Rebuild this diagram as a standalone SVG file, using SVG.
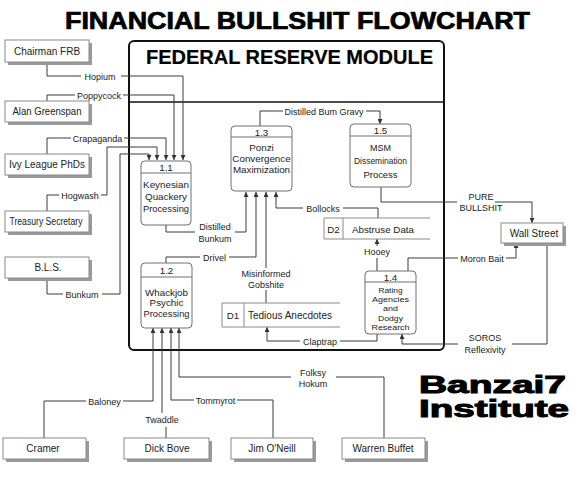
<svg xmlns="http://www.w3.org/2000/svg" width="578" height="480" viewBox="0 0 578 480">
<defs>
<marker id="arr" markerWidth="5" markerHeight="5" refX="5" refY="2.5" orient="auto" markerUnits="userSpaceOnUse">
<path d="M0,0 L5,2.5 L0,5 z" fill="#333"/>
</marker>
<style>
.ent{fill:#fff;stroke:#8a8a8a;stroke-width:1}
.shd{fill:#9a9a9a}
.proc{fill:#fff;stroke:#707070;stroke-width:1}
.div{stroke:#707070;stroke-width:1}
.ds{fill:none;stroke:#8a8a8a;stroke-width:1}
.c{fill:none;stroke:#3a3a3a;stroke-width:1}
.a{marker-end:url(#arr)}
text{font-family:"Liberation Sans",Arial,sans-serif;fill:#222}
.et{font-size:10px;text-anchor:middle}
.pt{font-size:9.8px;text-anchor:middle}
.sm{font-size:8px;text-anchor:middle}
.lbl{font-size:9px;text-anchor:middle}
.big{font-weight:bold;fill:#000;stroke:#000}
</style>
</defs>
<rect width="578" height="480" fill="#fff"/>

<text class="big" x="65" y="29" font-size="23" stroke-width="0.7" textLength="465" lengthAdjust="spacingAndGlyphs">FINANCIAL BULLSHIT FLOWCHART</text>

<g id="module">
<rect x="129" y="41" width="315" height="309" rx="5" fill="none" stroke="#111" stroke-width="2"/>
<line x1="129" y1="102" x2="444" y2="102" stroke="#111" stroke-width="1.6"/>
<text class="big" x="146" y="64" font-size="20" stroke-width="0.2" textLength="287" lengthAdjust="spacingAndGlyphs">FEDERAL RESERVE MODULE</text>
</g>

<g id="connectors">
<polyline class="c" points="47,62 47,76 81,76"/>
<polyline class="c a" points="121,76 183,76 183,160"/>
<text class="lbl" x="100" y="79.5">Hopium</text>

<polyline class="c" points="47,101 47,95 75,95"/>
<polyline class="c a" points="123,95 174,95 174,160"/>
<text class="lbl" x="99" y="98.5">Poppycock</text>

<polyline class="c" points="47,154 47,138 71,138"/>
<polyline class="c a" points="124,138 166,138 166,160"/>
<text class="lbl" x="97.5" y="141.5">Crapaganda</text>

<polyline class="c" points="47,211 47,195 59,195"/>
<polyline class="c a" points="101,195 107,195 107,147 157,147 157,160"/>
<text class="lbl" x="80" y="198.5">Hogwash</text>

<polyline class="c" points="47,278 47,294 63,294"/>
<polyline class="c a" points="102,294 120,294 120,154 149,154 149,160"/>
<text class="lbl" x="82" y="297.5">Bunkum</text>

<polyline class="c" points="166,225 166,232 195,232"/>
<polyline class="c a" points="235,232 246,232 246,192"/>
<text class="lbl" x="215" y="229.5" font-size="10">Distilled</text>
<text class="lbl" x="215" y="241.5" font-size="10">Bunkum</text>

<polyline class="c" points="166,263 166,257 200,257"/>
<polyline class="c a" points="229,257 256,257 256,192"/>
<text class="lbl" x="214.5" y="260.5">Drivel</text>

<polyline class="c" points="266,303 266,290"/>
<polyline class="c a" points="266,268 266,192"/>
<text class="lbl" x="266" y="277">Misinformed</text>
<text class="lbl" x="266" y="288">Gobshite</text>

<polyline class="c" points="378,218 378,208 343,208"/>
<polyline class="c a" points="303,208 276,208 276,192"/>
<text class="lbl" x="323" y="211.5">Bollocks</text>

<polyline class="c" points="260,126 260,111 283,111"/>
<polyline class="c a" points="366,111 380,111 380,124"/>
<text class="lbl" x="324" y="114.5">Distilled Bum Gravy</text>

<polyline class="c" points="377,271 377,258"/>
<polyline class="c a" points="377,246 377,239"/>
<text class="lbl" x="377" y="255">Hooey</text>

<polyline class="c" points="377,334 377,341 340,341"/>
<polyline class="c a" points="300,341 267,341 267,327"/>
<text class="lbl" x="320" y="344.5">Claptrap</text>

<polyline class="c" points="547,243 547,344 512,344"/>
<polyline class="c a" points="458,344 402,344 402,334"/>
<text class="lbl" x="485" y="341" font-size="11">SOROS</text>
<text class="lbl" x="485" y="353" font-size="11">Reflexivity</text>

<polyline class="c" points="408,271 408,258 458,258"/>
<polyline class="c a" points="506,258 516,258 516,243"/>
<text class="lbl" x="482" y="261.5">Moron Bait</text>

<polyline class="c" points="381,187 381,202 457,202"/>
<polyline class="c a" points="495,202 532,202 532,223"/>
<text class="lbl" x="481" y="199.5" font-size="10">PURE</text>
<text class="lbl" x="481" y="211" font-size="10">BULLSHIT</text>

<polyline class="c" points="44,438 44,401 86,401"/>
<polyline class="c a" points="123,401 153,401 153,328"/>
<text class="lbl" x="104.5" y="404.5">Baloney</text>

<polyline class="c" points="166,438 166,427"/>
<polyline class="c a" points="162,413 162,328"/>
<text class="lbl" x="162" y="423">Twaddle</text>

<polyline class="c" points="273,438 273,400 237,400"/>
<polyline class="c a" points="194,400 171,400 171,328"/>
<text class="lbl" x="215.5" y="403.5">Tommyrot</text>

<polyline class="c" points="384,438 384,377 336,377"/>
<polyline class="c a" points="291,377 179,377 179,328"/>
<text class="lbl" x="313" y="375.5" font-size="12">Folksy</text>
<text class="lbl" x="313" y="387" font-size="12">Hokum</text>
</g>

<g id="chairman-frb"><rect class="shd" x="8" y="43" width="84" height="22"/><rect class="ent" x="5" y="40" width="84" height="22"/><text class="et" x="47" y="54.5">Chairman FRB</text></g>
<g id="alan-greenspan"><rect class="shd" x="8" y="104" width="84" height="21"/><rect class="ent" x="5" y="101" width="84" height="21"/><text class="et" x="47" y="115" textLength="69" lengthAdjust="spacingAndGlyphs">Alan Greenspan</text></g>
<g id="ivy-league"><rect class="shd" x="8" y="157" width="84" height="21"/><rect class="ent" x="5" y="154" width="84" height="21"/><text class="et" x="47" y="168">Ivy League PhDs</text></g>
<g id="treasury-secretary"><rect class="shd" x="8" y="214" width="84" height="21"/><rect class="ent" x="5" y="211" width="84" height="21"/><text class="et" x="46" y="225" textLength="73" lengthAdjust="spacingAndGlyphs">Treasury Secretary</text></g>
<g id="bls"><rect class="shd" x="8" y="260" width="84" height="21"/><rect class="ent" x="5" y="257" width="84" height="21"/><text class="et" x="48" y="271">B.L.S.</text></g>
<g id="cramer"><rect class="shd" x="6" y="441" width="83" height="21"/><rect class="ent" x="3" y="438" width="83" height="21"/><text class="et" x="43" y="452">Cramer</text></g>
<g id="dick-bove"><rect class="shd" x="127" y="441" width="85" height="21"/><rect class="ent" x="124" y="438" width="85" height="21"/><text class="et" x="167" y="452">Dick Bove</text></g>
<g id="jim-oneill"><rect class="shd" x="234" y="441" width="82" height="21"/><rect class="ent" x="231" y="438" width="82" height="21"/><text class="et" x="272" y="452">Jim O'Neill</text></g>
<g id="warren-buffet"><rect class="shd" x="345" y="441" width="83" height="21"/><rect class="ent" x="342" y="438" width="83" height="21"/><text class="et" x="383" y="452">Warren Buffet</text></g>
<g id="wall-street"><rect class="shd" x="504" y="226" width="62" height="20"/><rect class="ent" x="501" y="223" width="62" height="20"/><text class="et" x="534" y="236.5">Wall Street</text></g>

<g id="p1-1"><rect class="proc" x="141" y="161" width="50" height="64" rx="4"/><line class="div" x1="141" y1="173" x2="191" y2="173"/>
<text class="pt" x="166" y="171">1.1</text><text class="pt" x="166" y="188">Keynesian</text><text class="pt" x="166" y="200">Quackery</text><text class="pt" x="166" y="212" textLength="46" lengthAdjust="spacingAndGlyphs">Processing</text></g>
<g id="p1-2"><rect class="proc" x="141" y="263" width="51" height="65" rx="4"/><line class="div" x1="141" y1="277" x2="192" y2="277"/>
<text class="pt" x="166.5" y="274">1.2</text><text class="pt" x="166.5" y="295.5">Whackjob</text><text class="pt" x="166.5" y="305.5">Psychic</text><text class="pt" x="166.5" y="316.5" textLength="46" lengthAdjust="spacingAndGlyphs">Processing</text></g>
<g id="p1-3"><rect class="proc" x="231" y="126" width="61" height="65" rx="4"/><line class="div" x1="231" y1="137" x2="292" y2="137"/>
<text class="pt" x="261.5" y="135.5">1.3</text><text class="pt" x="261.5" y="150.5">Ponzi</text><text class="pt" x="261.5" y="161.5">Convergence</text><text class="pt" x="261.5" y="172.5">Maximization</text></g>
<g id="p1-4"><rect class="proc" x="365" y="271" width="51" height="63" rx="4"/><line class="div" x1="365" y1="282" x2="416" y2="282"/>
<text class="pt" x="390.5" y="280.5">1.4</text>
<text class="sm" x="390.5" y="292.5" textLength="24" lengthAdjust="spacingAndGlyphs">Rating</text>
<text class="sm" x="390.5" y="302" textLength="37" lengthAdjust="spacingAndGlyphs">Agencies</text>
<text class="sm" x="390.5" y="311.3" textLength="15" lengthAdjust="spacingAndGlyphs">and</text>
<text class="sm" x="390.5" y="320.5" textLength="25" lengthAdjust="spacingAndGlyphs">Dodgy</text>
<text class="sm" x="390.5" y="330" textLength="38" lengthAdjust="spacingAndGlyphs">Research</text></g>
<g id="p1-5"><rect class="proc" x="350" y="124" width="61" height="63" rx="4"/><line class="div" x1="350" y1="136" x2="411" y2="136"/>
<text class="pt" x="380.5" y="133.5">1.5</text>
<text class="pt" x="380.5" y="151" font-size="11.5" textLength="21" lengthAdjust="spacingAndGlyphs">MSM</text>
<text class="pt" x="380.5" y="164" font-size="11.5" textLength="53" lengthAdjust="spacingAndGlyphs">Dissemination</text>
<text class="pt" x="380.5" y="178" font-size="11.5" textLength="34" lengthAdjust="spacingAndGlyphs">Process</text></g>

<g id="d1"><polyline class="ds" points="340,303 222,303 222,327 340,327"/><line class="ds" x1="244" y1="303" x2="244" y2="327"/>
<text class="pt" x="233" y="319">D1</text><text x="248" y="319" font-size="10">Tedious Anecdotes</text></g>
<g id="d2"><polyline class="ds" points="430,218 324,218 324,239 430,239"/><line class="ds" x1="343" y1="218" x2="343" y2="239"/>
<text class="pt" x="333.5" y="232.5">D2</text><text class="pt" x="383" y="232.5">Abstruse Data</text></g>

<g id="banzai7">
<text class="big" x="419" y="393" font-size="23" stroke-width="1" textLength="147" lengthAdjust="spacingAndGlyphs">Banzai7</text>
<text class="big" x="419" y="417" font-size="23" stroke-width="1" textLength="150" lengthAdjust="spacingAndGlyphs">Institute</text>
</g>
</svg>
